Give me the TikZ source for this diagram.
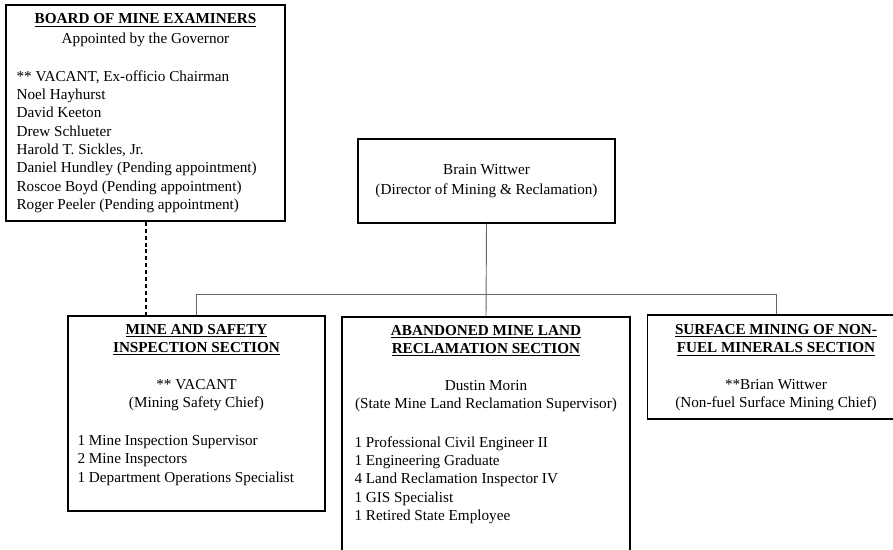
\documentclass[tikz,border=0pt]{standalone}
\usepackage{fontspec}
\setmainfont{Liberation Serif}
\usetikzlibrary{positioning}

\begin{document}
\begin{tikzpicture}[x=0.75pt, y=-0.75pt,
  every node/.style={font=\fontsize{11.4pt}{13.75pt}\selectfont, inner sep=0pt},
  box/.style={draw, line width=1.1pt},
  head/.style={align=center, anchor=north},
  staff/.style={align=left, anchor=north west},
  link/.style={draw=black!60, line width=0.7pt},
  dashline/.style={line width=1.5pt, dash pattern=on 3pt off 2.2pt}]

\useasboundingbox (0,0) rectangle (893,550);

\node (board) at (145.5,113) [box, minimum width=209.25pt, minimum height=162pt] {};
\node (dir)   at (486.5,181) [box, minimum width=192.75pt, minimum height=63pt,
  align=center] {Brain Wittwer\\[1pt](Director of Mining \& Reclamation)};
\node (msi)   at (196.5,413.5) [box, minimum width=192.75pt, minimum height=146.25pt] {};
\node (aml)   at (486,438.5) [box, minimum width=216pt, minimum height=182.25pt] {};
\node (surf)  at (776,367) [box, minimum width=192.75pt, minimum height=78pt] {};

\node (boardhead) at ([yshift=-7pt]board.north) [head]
  {\underline{\textbf{BOARD OF MINE EXAMINERS}}\\[0.8pt]Appointed by the Governor};
\node (boardlist) at ([xshift=8.25pt, yshift=-17.5pt]board.west |- boardhead.south) [staff]
  {** VACANT, Ex-officio Chairman\\Noel Hayhurst\\David Keeton\\Drew Schlueter\\
   Harold T. Sickles, Jr.\\Daniel Hundley (Pending appointment)\\
   Roscoe Boyd (Pending appointment)\\Roger Peeler (Pending appointment)};

\node (msihead) at ([yshift=-6.5pt]msi.north) [head]
  {\underline{\textbf{MINE AND SAFETY}}\\\underline{\textbf{INSPECTION SECTION}}\\[13.75pt]
   ** VACANT\\(Mining Safety Chief)};
\node (msilist) at ([xshift=7.5pt, yshift=-18pt]msi.west |- msihead.south) [staff]
  {1 Mine Inspection Supervisor\\2 Mine Inspectors\\1 Department Operations Specialist};

\node (amlhead) at ([yshift=-6.5pt]aml.north) [head]
  {\underline{\textbf{ABANDONED MINE LAND}}\\\underline{\textbf{RECLAMATION SECTION}}\\[13.75pt]
   Dustin Morin\\(State Mine Land Reclamation Supervisor)};
\node (amllist) at ([xshift=9.75pt, yshift=-18pt]aml.west |- amlhead.south) [staff]
  {1 Professional Civil Engineer II\\1 Engineering Graduate\\4 Land Reclamation Inspector IV\\
   1 GIS Specialist\\1 Retired State Employee};

\node (surfhead) at ([yshift=-7.5pt]surf.north) [head]
  {\underline{\textbf{SURFACE MINING OF NON-}}\\\underline{\textbf{FUEL MINERALS SECTION}}\\[13.75pt]
   **Brian Wittwer\\(Non-fuel Surface Mining Chief)};

\draw[link] (dir.south) -- (aml.north);
\draw[link] (msi.north) -- ++(0,-21) -| (surf.north);
\draw[dashline] (board.south) -- (board.south |- msi.north);
\end{tikzpicture}
\end{document}
